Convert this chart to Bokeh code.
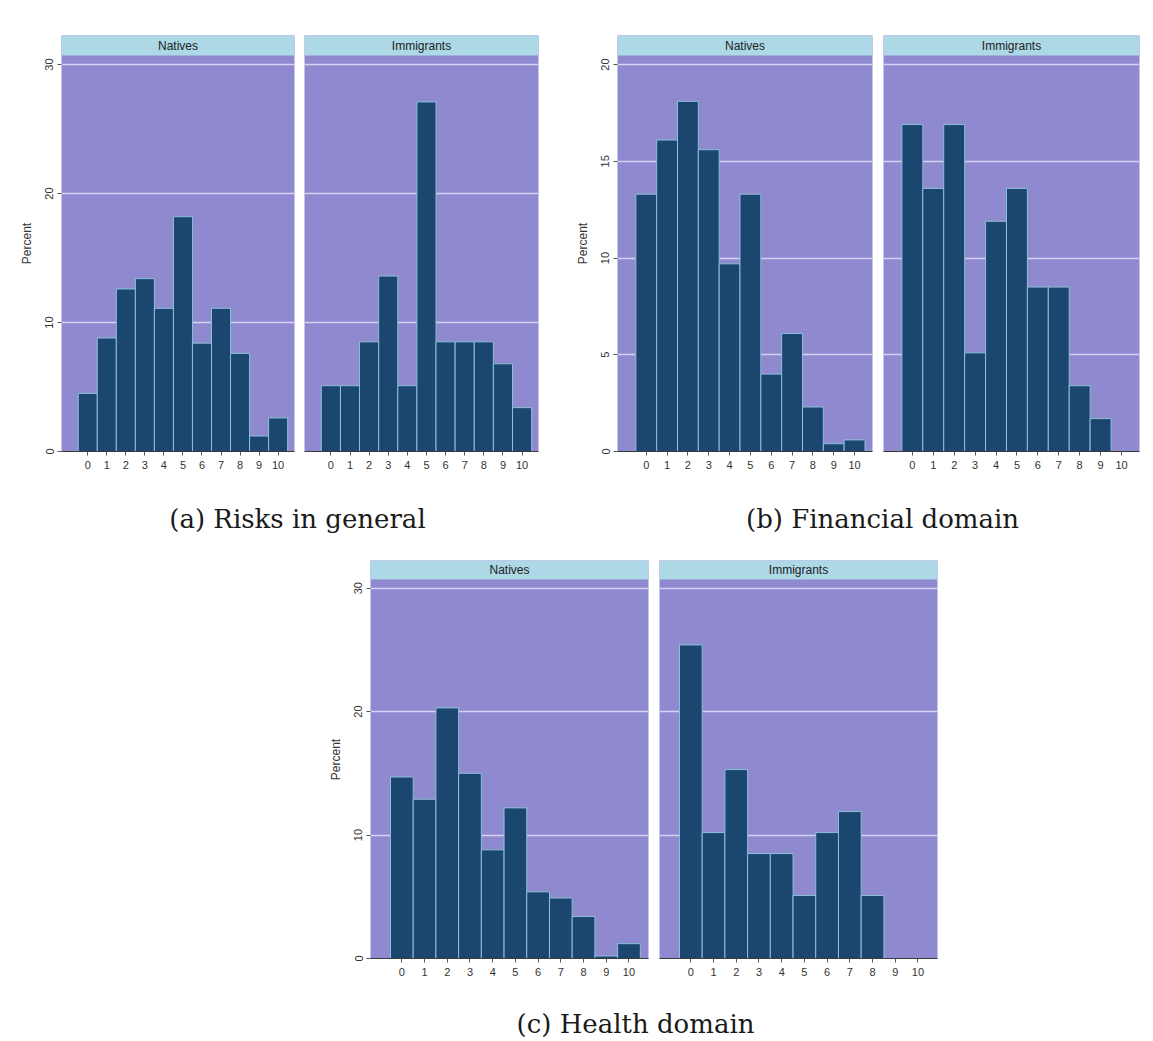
from bokeh.plotting import figure
from bokeh.models import BoxAnnotation, Label, FixedTicker, Spacer
from bokeh.layouts import row, column
from bokeh.embed import file_html
from bokeh.resources import INLINE

# ---------------- data ----------------
scores = list(range(11))
score_labels = [str(s) for s in scores]

risk_natives = [4.5, 8.8, 12.6, 13.4, 11.1, 18.2, 8.4, 11.1, 7.6, 1.2, 2.6]
risk_immigrants = [5.1, 5.1, 8.5, 13.6, 5.1, 27.1, 8.5, 8.5, 8.5, 6.8, 3.4]
fin_natives = [13.3, 16.1, 18.1, 15.6, 9.7, 13.3, 4.0, 6.1, 2.3, 0.4, 0.6]
fin_immigrants = [16.9, 13.6, 16.9, 5.1, 11.9, 13.6, 8.5, 8.5, 3.4, 1.7, 0.0]
health_natives = [14.7, 12.9, 20.3, 15.0, 8.8, 12.2, 5.4, 4.9, 3.4, 0.2, 1.2]
health_immigrants = [25.4, 10.2, 15.3, 8.5, 8.5, 5.1, 10.2, 11.9, 5.1, 0.0, 0.0]

group_labels = ["Natives", "Immigrants"]
captions = ["(a) Risks in general", "(b) Financial domain", "(c) Health domain"]
y_label = "Percent"
ticks_30 = [0, 10, 20, 30]
ticks_20 = [0, 5, 10, 15, 20]

# ---------------- style ----------------
PURPLE = "#8f89d0"
STRIP = "#add8e6"
BAR = "#1a466f"
BAR_LINE = "#8cc0d8"
GRID = "#d6d2f2"
AXIS = "#3a3a3a"
SANS = "Liberation Sans"
SERIF = "DejaVu Serif"
X0, X1 = -1.38, 10.86
STRIP_H = 20


def panel(values, label, ticks, ytop, fw, fh, strip_h, show_y, bl, br, bt, bb):
    yend = ytop * fh / (fh - strip_h)
    p = figure(frame_width=fw, frame_height=fh, x_range=(X0, X1), y_range=(0, yend),
               output_backend="svg", toolbar_location=None,
               min_border_left=bl, min_border_right=br, min_border_top=bt, min_border_bottom=bb)
    p.background_fill_color = PURPLE
    p.border_fill_color = "white"
    p.outline_line_color = None
    p.xgrid.visible = False
    p.ygrid.ticker = FixedTicker(ticks=[t for t in ticks if t > 0])
    p.ygrid.grid_line_color = GRID
    p.ygrid.grid_line_width = 1.6

    p.vbar(x=scores, top=values, width=1.0, bottom=0,
           fill_color=BAR, line_color=BAR_LINE, line_width=1)

    p.xaxis.ticker = FixedTicker(ticks=scores)
    p.xaxis.major_label_overrides = {s: l for s, l in zip(scores, score_labels)}
    p.xaxis.major_label_text_font = SANS
    p.xaxis.major_label_text_font_size = "11px"
    p.xaxis.major_label_text_color = "#333333"
    p.xaxis.axis_line_color = AXIS
    p.xaxis.axis_line_width = 1.2
    p.xaxis.major_tick_line_color = "#555555"
    p.xaxis.major_tick_in = 0
    p.xaxis.major_tick_out = 4
    p.xaxis.minor_tick_line_color = None
    p.xaxis.major_label_standoff = 5

    if show_y:
        p.yaxis.ticker = FixedTicker(ticks=ticks)
        p.yaxis.axis_line_color = None
        p.yaxis.major_tick_line_color = "#555555"
        p.yaxis.major_tick_in = 0
        p.yaxis.major_tick_out = 4
        p.yaxis.minor_tick_line_color = None
        p.yaxis.major_label_orientation = "vertical"
        p.yaxis.major_label_text_font = SANS
        p.yaxis.major_label_text_font_size = "11px"
        p.yaxis.major_label_text_color = "#333333"
        p.yaxis.major_label_standoff = 4
        p.yaxis.axis_label = y_label
        p.yaxis.axis_label_text_font = SANS
        p.yaxis.axis_label_text_font_size = "12px"
        p.yaxis.axis_label_text_font_style = "normal"
        p.yaxis.axis_label_text_color = "#333333"
        p.yaxis.axis_label_standoff = 9
    else:
        p.yaxis.visible = False

    p.add_layout(BoxAnnotation(bottom=ytop, fill_color=STRIP, fill_alpha=1.0,
                               line_color=None, level="overlay"))
    p.add_layout(Label(x=(X0 + X1) / 2, y=ytop + (yend - ytop) / 2, text=label,
                       text_align="center", text_baseline="middle", level="overlay",
                       text_font=SANS, text_font_size="12px", text_color="#222222"))
    return p


# ---------------- top row ----------------
TOP_FH = 416
a_nat = panel(risk_natives, group_labels[0], ticks_30, 30.7, 233, TOP_FH, STRIP_H, True, 49, 5, 35, 34)
a_imm = panel(risk_immigrants, group_labels[1], ticks_30, 30.7, 234, TOP_FH, STRIP_H, False, 5, 5, 35, 34)
b_nat = panel(fin_natives, group_labels[0], ticks_20, 20.47, 255, TOP_FH, STRIP_H, True, 49, 5, 35, 34)
b_imm = panel(fin_immigrants, group_labels[1], ticks_20, 20.47, 256, TOP_FH, STRIP_H, False, 6, 3, 35, 34)

top_row = row(Spacer(width=12, height=10), a_nat, a_imm, Spacer(width=25, height=10), b_nat, b_imm)


def caption_fig(w, h, items):
    c = figure(width=w, height=h, x_range=(0, w), y_range=(0, h),
               output_backend="svg", toolbar_location=None,
               x_axis_location=None, y_axis_location=None, min_border=0)
    c.outline_line_color = None
    c.grid.visible = False
    c.background_fill_color = "white"
    for (x, y, t) in items:
        c.add_layout(Label(x=x, y=y, text=t, text_align="center", text_baseline="middle",
                           text_font=SERIF, text_font_size="26px", text_color="#1a1a1a"))
    return c


cap_top = caption_fig(1142, 60, [(297, 27, captions[0]), (882, 27, captions[1])])

# ---------------- bottom row ----------------
BOT_FH = 398
c_nat = panel(health_natives, group_labels[0], ticks_30, 30.7, 278, BOT_FH, 19, True, 49, 5, 15, 30)
c_imm = panel(health_immigrants, group_labels[1], ticks_30, 30.7, 278, BOT_FH, 19, False, 6, 5, 15, 30)
bottom_row = row(Spacer(width=321, height=10), c_nat, c_imm)

cap_bot = caption_fig(1142, 52, [(635, 17, captions[2])])

layout = column(top_row, cap_top, bottom_row, cap_bot)

open("out.html", "w").write(file_html(layout, INLINE))
